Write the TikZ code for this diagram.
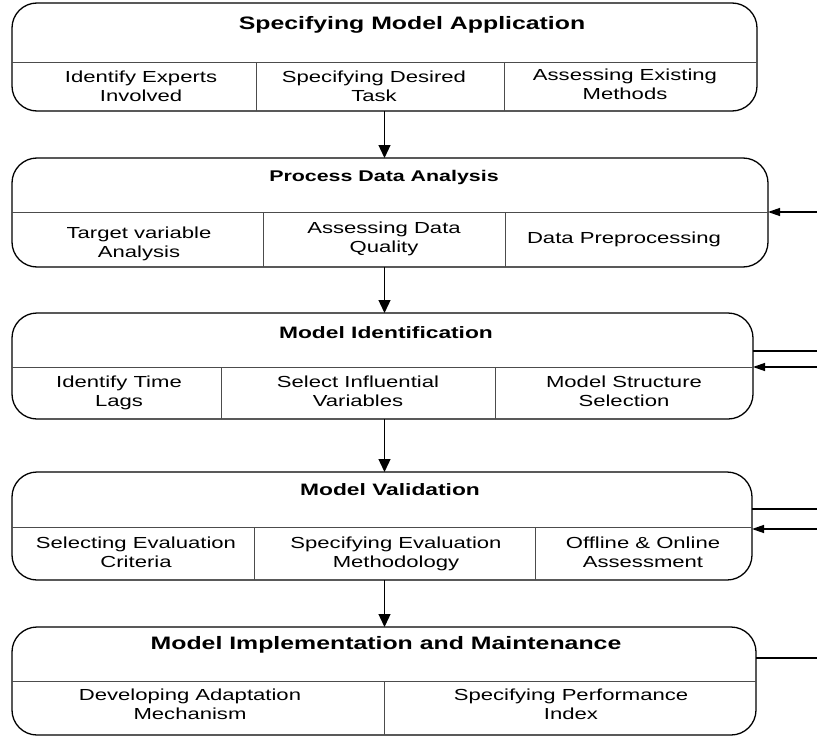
\documentclass[tikz,border=0pt]{standalone}
\usepackage{fontspec}
\setmainfont[FakeStretch=1.38]{Liberation Sans}
\usetikzlibrary{arrows.meta}
\begin{document}
\begin{tikzpicture}[x=1pt,y=-1pt,
  stage/.style={draw=black, rounded corners=25pt, line width=1.3pt, inner sep=0pt, outer sep=0pt, anchor=north west},
  divline/.style={draw=black!70, line width=1pt},
  ttl/.style={font=\fontsize{18}{20}\selectfont\bfseries, inner sep=0pt, anchor=base},
  ttlsmall/.style={font=\fontsize{15.5}{18}\selectfont\bfseries, inner sep=0pt, anchor=base},
  cell/.style={font=\fontsize{16}{19}\selectfont, align=center, inner sep=0pt,
    execute at begin node=\strut, execute at end node=\strut},
  flow/.style={draw=black, line width=1.3pt, -{Triangle[length=13pt,width=12pt]}},
  side/.style={draw=black, line width=1.3pt, -{Triangle[length=12pt,width=8pt]}},
  sideline/.style={draw=black, line width=1.3pt}]
\useasboundingbox (0,0) rectangle (817,736);

% Stage 1
\node[stage, minimum width=745pt, minimum height=108pt] (s1) at (12,3) {};
\draw[divline] (12,62) -- (757,62);
\draw[divline] (256,62) -- (256,111);
\draw[divline] (504,62) -- (504,111);
\node[ttl] (t1) at (412,29) {Specifying Model Application};
\node[cell] (c11) at (141,89) {Identify Experts\\Involved};
\node[cell] (c12) at (374,89) {Specifying Desired\\Task};
\node[cell] (c13) at (625,87) {Assessing Existing\\Methods};

% Stage 2
\node[stage, minimum width=756pt, minimum height=109pt] (s2) at (12,158) {};
\draw[divline] (12,212) -- (768,212);
\draw[divline] (263,212) -- (263,267);
\draw[divline] (505,212) -- (505,267);
\node[ttlsmall] (t2) at (384,181) {Process Data Analysis};
\node[cell] (c21) at (139,245) {Target variable\\Analysis};
\node[cell] (c22) at (384,240) {Assessing Data\\Quality};
\node[cell] (c23) at (624,240) {Data Preprocessing};

% Stage 3
\node[stage, minimum width=741pt, minimum height=106pt] (s3) at (12,313) {};
\draw[divline] (12,367) -- (753,367);
\draw[divline] (221,367) -- (221,419);
\draw[divline] (495,367) -- (495,419);
\node[ttl, font=\fontsize{16.5}{19}\selectfont\bfseries] (t3) at (386,338) {Model Identification};
\node[cell] (c31) at (119,394) {Identify Time\\Lags};
\node[cell] (c32) at (358,394) {Select Influential\\Variables};
\node[cell] (c33) at (624,394) {Model Structure\\Selection};

% Stage 4
\node[stage, minimum width=740pt, minimum height=108pt] (s4) at (12,472) {};
\draw[divline] (12,527) -- (752,527);
\draw[divline] (254,527) -- (254,580);
\draw[divline] (535,527) -- (535,580);
\node[ttl, font=\fontsize{16.5}{19}\selectfont\bfseries] (t4) at (390,495) {Model Validation};
\node[cell] (c41) at (136,555) {Selecting Evaluation\\Criteria};
\node[cell] (c42) at (396,555) {Specifying Evaluation\\Methodology};
\node[cell] (c43) at (643,555) {Offline \& Online\\Assessment};

% Stage 5
\node[stage, minimum width=744pt, minimum height=108pt] (s5) at (12,627) {};
\draw[divline] (12,681) -- (756,681);
\draw[divline] (384,681) -- (384,735);
\node[ttl] (t5) at (386,649) {Model Implementation and Maintenance};
\node[cell] (c51) at (190,707) {Developing Adaptation\\Mechanism};
\node[cell] (c52) at (571,707) {Specifying Performance\\Index};

% Flow arrows
\draw[flow] (s1.south) -- (s2.north -| s1.south);
\draw[flow] (s2.south -| s1.south) -- (s3.north -| s1.south);
\draw[flow] (s3.south -| s1.south) -- (s4.north -| s1.south);
\draw[flow] (s4.south -| s1.south) -- (s5.north -| s1.south);

% Side connectors
\coordinate (r2) at (817,212);
\coordinate (r3a) at (817,351);
\coordinate (r3b) at (817,367);
\coordinate (r4a) at (817,509);
\coordinate (r4b) at (817,529);
\coordinate (r5) at (817,658);
\draw[side] (r2) -- (s2.east |- r2);
\draw[sideline] (r3a) -- (s3.east |- r3a);
\draw[side] (r3b) -- (s3.east |- r3b);
\draw[sideline] (r4a) -- (s4.east |- r4a);
\draw[side] (r4b) -- (s4.east |- r4b);
\draw[sideline] (r5) -- (s5.east |- r5);
\end{tikzpicture}
\end{document}
